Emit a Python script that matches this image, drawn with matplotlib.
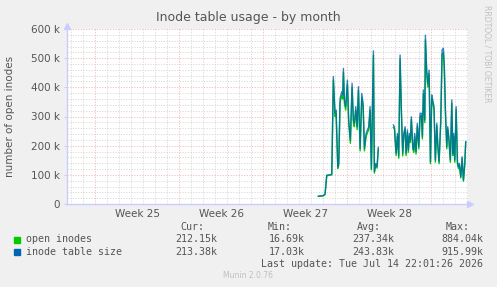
import numpy as np
import matplotlib.pyplot as plt
from matplotlib.transforms import blended_transform_factory

# DATA (days since start of week 25, values in thousands)
t1 = [18.61, 19.03, 19.17, 19.31, 19.64, 19.73, 19.86, 20.00, 20.09, 20.23,
      20.31, 20.42, 20.56, 20.64, 20.70, 20.78, 20.89, 21.03, 21.14, 21.28,
      21.42, 21.53, 21.61, 21.73, 21.84, 21.95, 22.09, 22.23, 22.34, 22.45,
      22.59, 22.70, 22.81, 22.92, 23.03, 23.20, 23.28, 23.39, 23.50, 23.61]
size1 = [27, 29, 34, 99, 101, 103, 437, 311, 322, 128,
         139, 362, 385, 374, 465, 357, 334, 425, 288, 219,
         414, 288, 277, 334, 265, 402, 191, 379, 345, 191,
         242, 254, 265, 334, 122, 525, 111, 139, 128, 194]
open1 = [26, 28, 33, 97, 99, 100, 425, 300, 310, 122,
         133, 348, 372, 360, 452, 345, 322, 410, 277, 208,
         400, 278, 265, 322, 255, 390, 182, 365, 332, 182,
         232, 244, 255, 322, 117, 510, 106, 134, 123, 188]

t2 = [24.86, 24.95, 25.09, 25.20, 25.31, 25.42, 25.53, 25.64, 25.73, 25.84,
      25.92, 26.03, 26.11, 26.20, 26.28, 26.36, 26.48, 26.56, 26.64, 26.75,
      26.86, 26.98, 27.09, 27.20, 27.28, 27.36, 27.48, 27.53, 27.64, 27.73,
      27.84, 27.95, 28.06, 28.14, 28.25, 28.36, 28.48, 28.56, 28.67, 28.81,
      28.92, 29.03, 29.11, 29.20, 29.31, 29.39, 29.48, 29.61, 29.73, 29.81,
      29.89, 29.98, 30.09, 30.20, 30.28, 30.36, 30.48, 30.59, 30.70, 30.81,
      30.89]
size2 = [271, 265, 174, 242, 165, 511, 322, 174, 242, 265,
         174, 254, 185, 242, 219, 299, 197, 185, 242, 179,
         277, 197, 311, 311, 231, 391, 288, 579, 459, 414,
         459, 145, 374, 357, 334, 151, 277, 208, 145, 288,
         528, 534, 471, 322, 197, 265, 231, 151, 357, 174,
         242, 151, 334, 145, 128, 139, 94, 162, 82, 139,
         214]
open2 = [263, 257, 166, 233, 157, 497, 312, 165, 233, 257,
         166, 246, 177, 233, 211, 290, 189, 177, 233, 171,
         268, 189, 301, 301, 223, 378, 279, 563, 446, 401,
         446, 138, 362, 346, 324, 143, 268, 200, 138, 279,
         513, 518, 457, 312, 189, 257, 223, 143, 346, 166,
         233, 143, 324, 138, 122, 133, 89, 156, 78, 133,
         212]

week_labels = ['Week 25', 'Week 26', 'Week 27', 'Week 28']
series_names = ['open inodes', 'inode table size']
cur = ['212.15k', '213.38k']
mins = ['16.69k', '17.03k']
avgs = ['237.34k', '243.83k']
maxs = ['884.04k', '915.99k']
colors = ['#00CC00', '#0066B3']

W, H = 497, 287
BG = '#F0F0F0'
TXT = '#555555'

def fy(py):
    return 1 - py / H

fig = plt.figure(figsize=(W / 100, H / 100), dpi=100, facecolor=BG)
ax = fig.add_axes([67 / W, fy(204), (468 - 67) / W, (204 - 29) / H])
ax.set_facecolor('white')

xmin, xmax = -2.333, 31.08
ax.set_xlim(xmin, xmax)
ax.set_ylim(0, 600)

# grid
for d in np.arange(-2, 32, 1):
    col = '#F0A8A8' if d % 7 == 0 else '#CFCFCF'
    ax.axvline(d, color=col, lw=0.55, ls=(0, (1.5, 2)), zorder=1)
for v in range(20, 601, 20):
    col = '#F0A8A8' if v % 100 == 0 else '#CFCFCF'
    ax.axhline(v, color=col, lw=0.55, ls=(0, (1.5, 2)), zorder=1)

# data
t = t1 + [np.nan] + t2
s_open = open1 + [np.nan] + open2
s_size = size1 + [np.nan] + size2
ax.plot(t, s_open, color=colors[0], lw=1.0, zorder=3)
ax.plot(t, s_size, color=colors[1], lw=1.0, alpha=0.8, zorder=4)

for sp in ax.spines.values():
    sp.set_visible(False)
ax.plot([xmin, xmax], [0, 0], color='#CCCCFF', lw=1, zorder=5, clip_on=False)
ax.plot([xmin, xmin], [0, 600], color='#CCCCFF', lw=1, zorder=5, clip_on=False)
ax.plot(xmax + 0.2, 0, marker='>', color='#CCCCFF', ms=4, clip_on=False)
ax.plot(xmin, 612, marker='^', color='#CCCCFF', ms=4, clip_on=False)

ax.set_yticks(range(0, 601, 100))
ax.set_yticklabels(['0'] + ['%d k' % v for v in range(100, 601, 100)])
ax.tick_params(axis='y', length=2, color='#CCCCFF', labelsize=7.5, labelcolor=TXT, pad=3)
ax.set_xticks([])
tr = blended_transform_factory(ax.transData, ax.transAxes)
for i, lab in enumerate(week_labels):
    ax.text(3.5 + 7 * i, -0.03, lab, transform=tr, ha='center', va='top',
            fontsize=7.5, color=TXT)

fig.text(248 / W, fy(18), 'Inode table usage - by month', ha='center', va='center',
         fontsize=9, color=TXT)
fig.text(10 / W, fy(116), 'number of open inodes', rotation=90, ha='center',
         va='center', fontsize=7.5, color=TXT)
fig.text(487 / W, fy(5), 'RRDTOOL / TOBI OETIKER', rotation=270, ha='center',
         va='top', fontsize=5.5, color='#C0C0C0')

mono = dict(family='DejaVu Sans Mono', fontsize=7.2, color=TXT, va='center')
fig.text(204 / W, fy(227), 'Cur:', ha='right', **mono)
fig.text(292 / W, fy(227), 'Min:', ha='right', **mono)
fig.text(381 / W, fy(227), 'Avg:', ha='right', **mono)
fig.text(470 / W, fy(227), 'Max:', ha='right', **mono)
for i, name in enumerate(series_names):
    y = 239.5 + 12.5 * i
    fig.patches.append(plt.Rectangle((14 / W, fy(y + 3)), 6 / W, 6 / H,
                                     transform=fig.transFigure, color=colors[i]))
    fig.text(26 / W, fy(y), name, ha='left', **mono)
    fig.text(217 / W, fy(y), cur[i], ha='right', **mono)
    fig.text(305 / W, fy(y), mins[i], ha='right', **mono)
    fig.text(394 / W, fy(y), avgs[i], ha='right', **mono)
    fig.text(483 / W, fy(y), maxs[i], ha='right', **mono)
fig.text(483 / W, fy(264), 'Last update: Tue Jul 14 22:01:26 2026', ha='right', **mono)
fig.text(248 / W, fy(276), 'Munin 2.0.76', ha='center', va='center',
         fontsize=5.5, color='#C0C0C0')

fig.savefig('out.png', dpi=100, facecolor=BG)
